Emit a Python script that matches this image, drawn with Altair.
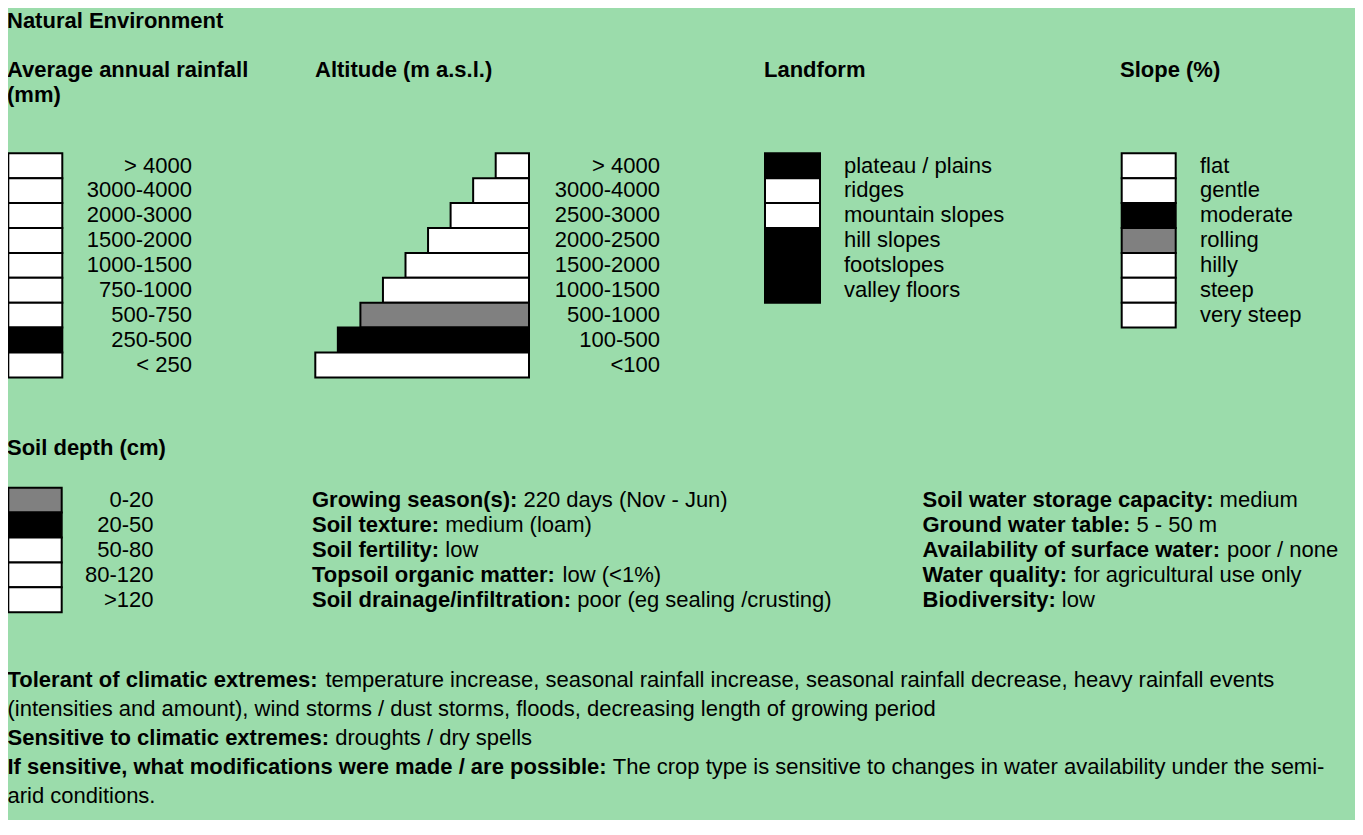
import altair as alt
import pandas as pd

# ---------------- data ----------------
title = "Natural Environment"

rain_classes = ["> 4000", "3000-4000", "2000-3000", "1500-2000", "1000-1500",
                "750-1000", "500-750", "250-500", "< 250"]
rain_state = [0, 0, 0, 0, 0, 0, 0, 1, 0]

alt_classes = ["> 4000", "3000-4000", "2500-3000", "2000-2500", "1500-2000",
               "1000-1500", "500-1000", "100-500", "<100"]
alt_state = [0, 0, 0, 0, 0, 0, 2, 1, 0]

land_classes = ["plateau / plains", "ridges", "mountain slopes", "hill slopes",
                "footslopes", "valley floors"]
land_state = [1, 0, 0, 1, 1, 1]

slope_classes = ["flat", "gentle", "moderate", "rolling", "hilly", "steep", "very steep"]
slope_state = [0, 0, 1, 2, 0, 0, 0]

depth_classes = ["0-20", "20-50", "50-80", "80-120", ">120"]
depth_state = [2, 1, 0, 0, 0]

soil_labels = ["Growing season(s):", "Soil texture:", "Soil fertility:",
               "Topsoil organic matter:", "Soil drainage/infiltration:"]
soil_values = ["220 days (Nov - Jun)", "medium (loam)", "low", "low (<1%)",
               "poor (eg sealing /crusting)"]

water_labels = ["Soil water storage capacity:", "Ground water table:",
                "Availability of surface water:", "Water quality:", "Biodiversity:"]
water_values = ["medium", "5 - 50 m", "poor / none", "for agricultural use only", "low"]

climate_labels = ["Tolerant of climatic extremes:", "", "Sensitive to climatic extremes:",
                  "If sensitive, what modifications were made / are possible:", ""]
climate_values = [
    "temperature increase, seasonal rainfall increase, seasonal rainfall decrease, heavy rainfall events",
    "(intensities and amount), wind storms / dust storms, floods, decreasing length of growing period",
    "droughts / dry spells",
    "The crop type is sensitive to changes in water availability under the semi-",
    "arid conditions.",
]

headings = ["Average annual rainfall", "(mm)", "Altitude (m a.s.l.)", "Landform",
            "Slope (%)", "Soil depth (cm)"]

# ---------------- layout ----------------
BG = "#9bdcab"
FONT = "Liberation Sans"
FS = 22
W, H = 1347, 812
STATE_FILL = {0: "white", 1: "black", 2: "#808080"}

ROW_H = 24.9
TOP1 = 153.3
TOP2 = 487.7
TXT_OFF = 19.2

# Arial / Liberation Sans Bold advance widths (per 1000 em)
AB = {' ': 278, '(': 333, ')': 333, ',': 278, '-': 333, '.': 278, '/': 278, ':': 333,
      '%': 889, '<': 584, '>': 584,
      'A': 722, 'B': 722, 'C': 722, 'D': 722, 'E': 667, 'F': 611, 'G': 778, 'H': 722,
      'I': 278, 'J': 556, 'K': 722, 'L': 611, 'M': 833, 'N': 722, 'O': 778, 'P': 667,
      'Q': 778, 'R': 722, 'S': 667, 'T': 611, 'U': 722, 'V': 667, 'W': 944, 'X': 667,
      'Y': 667, 'Z': 611,
      'a': 556, 'b': 611, 'c': 556, 'd': 611, 'e': 556, 'f': 333, 'g': 611, 'h': 611,
      'i': 278, 'j': 278, 'k': 556, 'l': 278, 'm': 889, 'n': 611, 'o': 611, 'p': 611,
      'q': 611, 'r': 389, 's': 556, 't': 333, 'u': 611, 'v': 556, 'w': 778, 'x': 556,
      'y': 556, 'z': 500}


def bold_width(s):
    return sum(AB.get(c, 556) for c in s) / 1000.0 * FS


boxes, t_right, t_left, t_bold = [], [], [], []


def column(classes, states, x0, x1, top, label_x, label_list):
    for i, (c, s) in enumerate(zip(classes, states)):
        y0 = top + i * ROW_H
        boxes.append(dict(x=x0, x2=x1, y=y0, y2=y0 + ROW_H, fill=STATE_FILL[s]))
        label_list.append(dict(x=label_x, y=y0 + TXT_OFF, text=c))


column(rain_classes, rain_state, 8.3, 62.3, TOP1, 192, t_right)
column(land_classes, land_state, 765, 820, TOP1, 844, t_left)
column(slope_classes, slope_state, 1121.7, 1175.7, TOP1, 1200, t_left)
column(depth_classes, depth_state, 8.3, 61.7, TOP2, 153.5, t_right)

# altitude: stepped bars, longer with lower altitude
for i, (c, s) in enumerate(zip(alt_classes, alt_state)):
    y0 = TOP1 + i * ROW_H
    boxes.append(dict(x=529 - 33.3 - 22.55 * i, x2=529, y=y0, y2=y0 + ROW_H,
                      fill=STATE_FILL[s]))
    t_right.append(dict(x=660, y=y0 + TXT_OFF, text=c))

# headings
head_pos = [(7, 77), (7, 101.5), (315, 77), (764, 77), (1120, 77), (7, 454.5)]
t_bold.append(dict(x=7, y=28, text=title))
for h, (hx, hy) in zip(headings, head_pos):
    t_bold.append(dict(x=hx, y=hy, text=h))


def labelled(labels, values, x, ys):
    for lab, val, yy in zip(labels, values, ys):
        if lab:
            t_bold.append(dict(x=x, y=yy, text=lab))
            vx = x + bold_width(lab) + 0.278 * FS
        else:
            vx = x
        t_left.append(dict(x=vx, y=yy, text=val))


mid_ys = [TOP2 + i * ROW_H + TXT_OFF for i in range(5)]
labelled(soil_labels, soil_values, 312, mid_ys)
labelled(water_labels, water_values, 922.5, mid_ys)
labelled(climate_labels, climate_values, 7.5, [687, 716, 745, 774, 803])

# ---------------- chart ----------------
xs = alt.Scale(domain=[8, 8 + W], nice=False, zero=False)
ys = alt.Scale(domain=[8 + H, 8], nice=False, zero=False)

X = alt.X("x:Q", scale=xs, axis=None)
Y = alt.Y("y:Q", scale=ys, axis=None)

rects = alt.Chart(pd.DataFrame(boxes)).mark_rect(stroke="black", strokeWidth=2).encode(
    x=X, x2="x2:Q", y=Y, y2="y2:Q", fill=alt.Fill("fill:N", scale=None))

txt_kw = dict(baseline="alphabetic", font=FONT, fontSize=FS, color="black")
right_layer = alt.Chart(pd.DataFrame(t_right)).mark_text(align="right", **txt_kw).encode(
    x=X, y=Y, text="text:N")
left_layer = alt.Chart(pd.DataFrame(t_left)).mark_text(align="left", **txt_kw).encode(
    x=X, y=Y, text="text:N")
bold_layer = alt.Chart(pd.DataFrame(t_bold)).mark_text(align="left", fontWeight="bold",
                                                       **txt_kw).encode(
    x=X, y=Y, text="text:N")

chart = alt.layer(rects, right_layer, left_layer, bold_layer).properties(
    width=W, height=H, padding=0, autosize="none"
).configure(background=BG).configure_view(stroke=None)

chart.save("out.html", embed_options={"renderer": "svg", "actions": False})
